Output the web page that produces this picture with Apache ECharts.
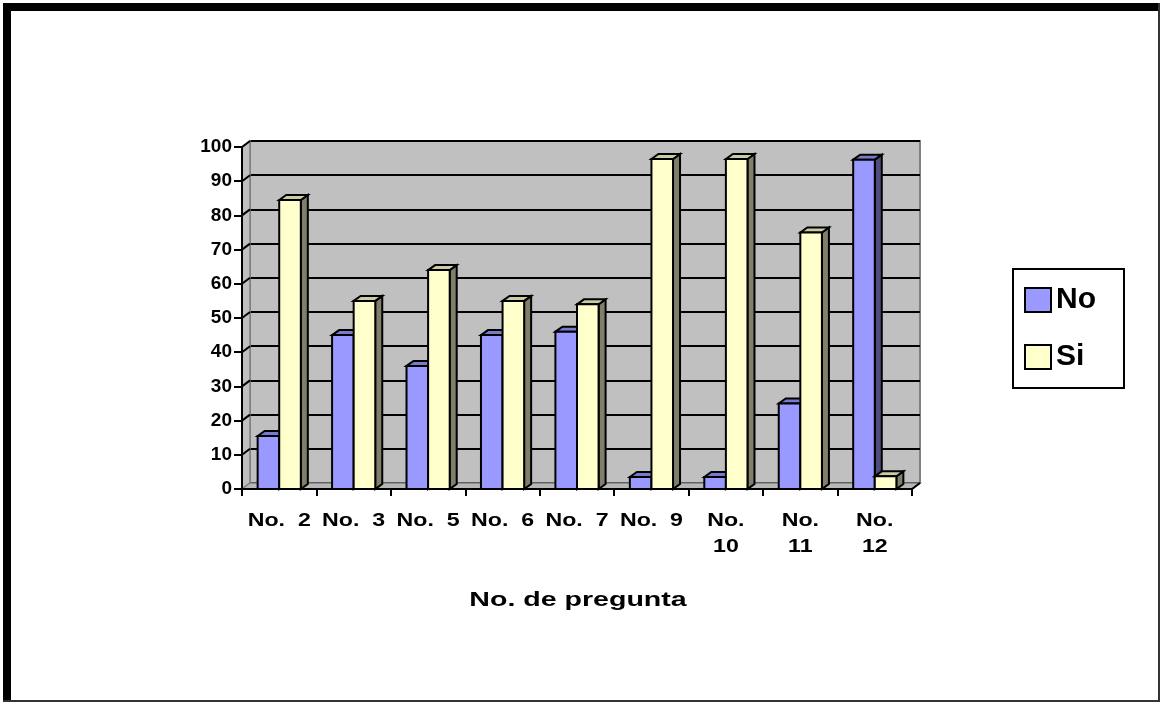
<!DOCTYPE html>
<html>
<head>
<meta charset="utf-8">
<title>No. de pregunta</title>
<script src="https://cdn.jsdelivr.net/npm/echarts@6/dist/echarts.min.js"></script>
<style>
  html, body { margin: 0; padding: 0; background: #fff; }
  #chart { width: 1161px; height: 704px; }
</style>
</head>
<body>
<div id="chart"></div>
<script>
// Question labels along the x axis
const categories = ['No. 2', 'No. 3', 'No. 5', 'No. 6', 'No. 7', 'No. 9', 'No. 10', 'No. 11', 'No. 12'];
// Percentage of answers per question
const noValues = [15.5, 45, 36, 45, 46, 3.5, 3.5, 25, 96.3];
const siValues = [84.5, 55, 64, 55, 54, 96.5, 96.5, 75, 3.7];
// Value axis ticks
const yTicks = [0, 10, 20, 30, 40, 50, 60, 70, 80, 90, 100];
const seriesNames = ['No', 'Si'];
const xTitle = 'No. de pregunta';

const FONT = '"Liberation Sans", Arial, Helvetica, sans-serif';
// depth of the back wall and of each column (pixels)
const WALL_DX = 8, WALL_DY = 6;
const BAR_DX = 7, BAR_DY = 5;
// the category labels and the axis title are set in a wide, stretched type
const LABEL_STRETCH = 1.22;
const TITLE_STRETCH = 1.36;

const faces = {
  No: { front: '#9999ff', top: '#7a7acc', side: '#4d4d80' },
  Si: { front: '#ffffcc', top: '#cccca3', side: '#80806a' }
};

// short labels stay on one line with a wide gap, two-digit ones wrap
function axisLabelText(s) {
  const parts = s.split(' ');
  return parts[1].length > 1 ? parts[0] + '\n' + parts[1] : parts[0] + '  ' + parts[1];
}

// side wall, floor and the slanted grid lines on the side wall
function renderWalls(params, api) {
  const cs = params.coordSys;
  const x0 = cs.x, y0 = cs.y, x1 = cs.x + cs.width, y1 = cs.y + cs.height;
  const children = [
    {
      type: 'polygon',
      shape: { points: [[x0, y1], [x0, y0], [x0 + WALL_DX, y0 - WALL_DY], [x0 + WALL_DX, y1 - WALL_DY]] },
      style: { fill: '#c0c0c0', stroke: '#808080', lineWidth: 1.5 }
    },
    {
      type: 'polygon',
      shape: { points: [[x0, y1], [x0 + WALL_DX, y1 - WALL_DY], [x1 + WALL_DX, y1 - WALL_DY], [x1, y1]] },
      style: { fill: '#b8b8b8', stroke: '#808080', lineWidth: 1.5 }
    }
  ];
  yTicks.forEach(function (v) {
    const y = api.coord([0, v])[1];
    if (v > yTicks[0]) {
      children.push({
        type: 'line',
        shape: { x1: x0, y1: y, x2: x0 + WALL_DX, y2: y - WALL_DY },
        style: { stroke: '#000', lineWidth: 2 }
      });
    }
  });
  children.push({
    type: 'line',
    shape: { x1: x1, y1: y1, x2: x1 + WALL_DX, y2: y1 - WALL_DY },
    style: { stroke: '#000', lineWidth: 2 }
  });
  return { type: 'group', children: children };
}

// category names under each pair of columns
function renderCategoryLabel(params, api) {
  const ci = api.value(0);
  const p = api.coord([ci, 0]);
  return {
    type: 'text',
    x: p[0], y: p[1] + 19,
    scaleX: LABEL_STRETCH,
    style: {
      text: axisLabelText(categories[ci]),
      fill: '#000', font: 'bold 19px ' + FONT, lineHeight: 26,
      textAlign: 'center', textVerticalAlign: 'top'
    }
  };
}

// a column with front, top and right faces
function makeBarRenderer(name, offsetSide) {
  return function (params, api) {
    const ci = api.value(0);
    const v = api.value(1);
    const base = api.coord([ci, 0]);
    const top = api.coord([ci, v]);
    const band = api.size([1, 0])[0];
    const bw = band * 0.29;
    const xa = offsetSide < 0 ? base[0] - bw : base[0];
    const xb = xa + bw;
    const yt = top[1], yb = base[1];
    const c = faces[name];
    const stroke = { stroke: '#000', lineWidth: 2, lineJoin: 'miter' };
    return {
      type: 'group',
      children: [
        {
          type: 'polygon',
          shape: { points: [[xb, yt], [xb + BAR_DX, yt - BAR_DY], [xb + BAR_DX, yb - BAR_DY], [xb, yb]] },
          style: Object.assign({ fill: c.side }, stroke)
        },
        {
          type: 'polygon',
          shape: { points: [[xa, yt], [xa + BAR_DX, yt - BAR_DY], [xb + BAR_DX, yt - BAR_DY], [xb, yt]] },
          style: Object.assign({ fill: c.top }, stroke)
        },
        {
          type: 'rect',
          shape: { x: xa, y: yt, width: bw, height: yb - yt },
          style: Object.assign({ fill: c.front }, stroke)
        }
      ]
    };
  };
}

const chart = echarts.init(document.getElementById('chart'), null, { renderer: 'canvas' });

const option = {
  backgroundColor: '#ffffff',
  animation: false,
  textStyle: { fontFamily: FONT },
  grid: [
    { left: 242, top: 147, width: 670, height: 342, containLabel: false },
    {
      left: 242 + WALL_DX, top: 147 - WALL_DY, width: 670, height: 342,
      show: true, backgroundColor: '#c0c0c0', borderColor: '#808080', borderWidth: 2
    }
  ],
  xAxis: [
    {
      type: 'category', gridIndex: 0, data: categories, z: 10,
      axisLine: { lineStyle: { color: '#000', width: 2 } },
      axisTick: { show: true, length: 7, alignWithLabel: false, lineStyle: { color: '#000', width: 2 } },
      axisLabel: { show: false },
      splitLine: { show: false }
    },
    {
      type: 'category', gridIndex: 1, data: categories, show: false
    }
  ],
  yAxis: [
    {
      type: 'value', gridIndex: 0, min: yTicks[0], max: yTicks[yTicks.length - 1], interval: 10, z: 10,
      axisLine: { show: true, lineStyle: { color: '#000', width: 2 } },
      axisTick: { show: true, length: 8, lineStyle: { color: '#000', width: 2 } },
      axisLabel: { margin: 10, color: '#000', fontSize: 19, fontWeight: 'bold', fontFamily: FONT },
      splitLine: { show: false }
    },
    {
      type: 'value', gridIndex: 1, min: yTicks[0], max: yTicks[yTicks.length - 1], interval: 10,
      axisLine: { show: false }, axisTick: { show: false }, axisLabel: { show: false },
      splitLine: { show: true, lineStyle: { color: '#000', width: 2 } }
    }
  ],
  legend: {
    orient: 'vertical', left: 1013, top: 269,
    padding: [16, 28, 16, 11],
    borderColor: '#000', borderWidth: 2, backgroundColor: '#fff',
    itemWidth: 26, itemHeight: 24, itemGap: 27, icon: 'rect',
    itemStyle: { borderColor: '#000', borderWidth: 2 },
    textStyle: { fontSize: 30, fontWeight: 'bold', color: '#000', fontFamily: FONT, lineHeight: 30 },
    data: seriesNames
  },
  graphic: [
    { type: 'rect', shape: { x: 3, y: 3, width: 1157, height: 8 }, style: { fill: '#000' }, z: 100 },
    { type: 'rect', shape: { x: 3, y: 3, width: 8, height: 699 }, style: { fill: '#000' }, z: 100 },
    { type: 'rect', shape: { x: 1158, y: 3, width: 2, height: 699 }, style: { fill: '#333' }, z: 100 },
    { type: 'rect', shape: { x: 3, y: 700, width: 1157, height: 2 }, style: { fill: '#333' }, z: 100 },
    {
      type: 'text', x: 578, y: 600, scaleX: TITLE_STRETCH, z: 100,
      style: {
        text: xTitle, fill: '#000', font: 'bold 21px ' + FONT,
        textAlign: 'center', textVerticalAlign: 'middle'
      }
    }
  ],
  series: [
    {
      type: 'custom', name: 'walls', xAxisIndex: 0, yAxisIndex: 0, z: 2, silent: true,
      renderItem: renderWalls, data: [[0, 0]]
    },
    {
      type: 'custom', name: 'categoryLabels', xAxisIndex: 0, yAxisIndex: 0, z: 5, silent: true,
      renderItem: renderCategoryLabel,
      data: categories.map(function (c, i) { return [i, 0]; })
    },
    {
      type: 'custom', name: 'No', xAxisIndex: 0, yAxisIndex: 0, z: 3,
      itemStyle: { color: faces.No.front },
      renderItem: makeBarRenderer('No', -1),
      encode: { x: 0, y: 1 },
      data: noValues.map(function (v, i) { return [i, v]; })
    },
    {
      type: 'custom', name: 'Si', xAxisIndex: 0, yAxisIndex: 0, z: 4,
      itemStyle: { color: faces.Si.front },
      renderItem: makeBarRenderer('Si', 1),
      encode: { x: 0, y: 1 },
      data: siValues.map(function (v, i) { return [i, v]; })
    }
  ]
};

chart.setOption(option);
</script>
</body>
</html>
